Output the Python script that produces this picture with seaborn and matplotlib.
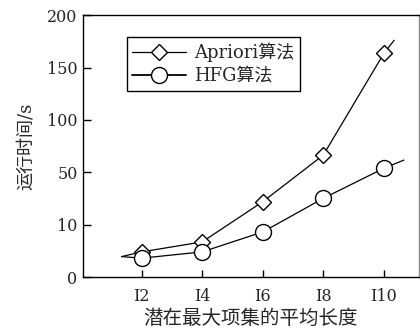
import matplotlib
matplotlib.use('Agg')
import matplotlib.pyplot as plt
import numpy as np
import pandas as pd
import seaborn as sns
from matplotlib.lines import Line2D

# data
categories = ['I2', 'I4', 'I6', 'I8', 'I10']
apriori = [4.8, 6.7, 27.5, 66.4, 163.5]
hfg = [3.6, 4.8, 8.6, 30.1, 53.8]
# curve lead-in / tail beyond the marked points
lead_in = 3.9
apriori_tail = 176
hfg_tail = 61.6

yticks = [0, 10, 50, 100, 150, 200]

sns.set_theme(style='ticks')
plt.rcParams['font.family'] = ['DejaVu Serif', 'Noto Sans CJK SC']
plt.rcParams['axes.unicode_minus'] = False

# equal spacing between the uneven y ticks
tick_pos = np.arange(len(yticks), dtype=float)


def fwd(v):
    return np.interp(v, yticks, tick_pos, left=-1, right=6)


def inv(p):
    return np.interp(p, tick_pos, yticks)


xpos = np.arange(len(categories))

curves = pd.DataFrame({
    'x': np.r_[-0.33, xpos, 4.17, -0.33, xpos, 4.33],
    'time': [lead_in] + apriori + [apriori_tail] + [lead_in] + hfg + [hfg_tail],
    'algo': ['Apriori算法'] * 7 + ['HFG算法'] * 7})

fig = plt.figure(figsize=(4.2, 3.29), dpi=100)
ax = fig.add_axes([0.198, 0.158, 0.799, 0.796])
ax.set_yscale('function', functions=(fwd, inv))

sns.lineplot(data=curves, x='x', y='time', hue='algo', palette=['black', 'black'],
             linewidth=0.9, legend=False, ax=ax, sort=False)
ax.plot(xpos, apriori, 'D', ms=8.5, mfc='white', mec='black', mew=1.0)
ax.plot(xpos, hfg, 'o', ms=11.5, mfc='white', mec='black', mew=1.0)

# legend proxies
handles = [Line2D([], [], color='black', lw=0.9, marker='D', ms=8.5, mfc='white', mec='black'),
           Line2D([], [], color='black', lw=1.3, marker='o', ms=11.5, mfc='white', mec='black')]
leg = ax.legend(handles, ['Apriori算法', 'HFG算法'], loc='upper left',
                bbox_to_anchor=(0.13, 0.915), fontsize=13, frameon=True,
                fancybox=False, edgecolor='black', framealpha=1,
                handlelength=3.0, handletextpad=0.45, labelspacing=0.3,
                borderpad=0.3, borderaxespad=0)
leg.get_frame().set_linewidth(1.0)

ax.set_xlim(-0.965, 4.576)
ax.set_ylim(0, 200)
ax.set_xticks(xpos)
ax.set_xticklabels(categories)
ax.set_yticks(yticks)
ax.set_yticklabels([str(t) for t in yticks])
ax.minorticks_off()
ax.tick_params(axis='x', direction='in', length=5, width=1, pad=8,
               labelsize=11.5, color='black')
ax.tick_params(axis='y', direction='in', length=6, width=1, pad=4,
               labelsize=11.5, color='black')
for s in ax.spines.values():
    s.set_color('black')
    s.set_linewidth(1.0)
ax.spines['right'].set_color('#888888')

ax.set_xlabel('潜在最大项集的平均长度', fontsize=14, labelpad=3)
ax.set_ylabel('运行时间/s', fontsize=13, labelpad=9)

fig.savefig('out.png', dpi=100)
